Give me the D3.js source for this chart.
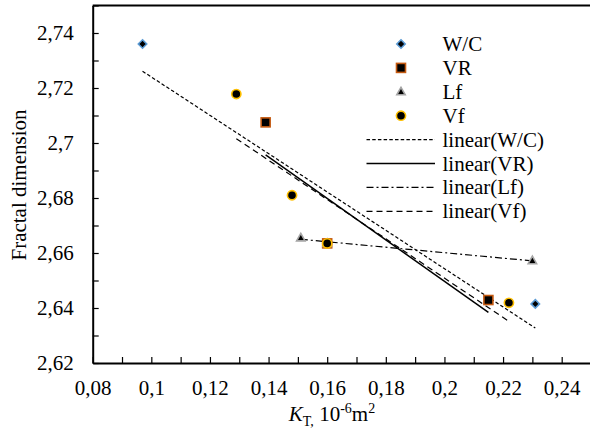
<!DOCTYPE html>
<html>
<head>
<meta charset="utf-8">
<script src="https://cdn.jsdelivr.net/npm/d3@7"></script>
<style>
  body { margin: 0; background: #fff; }
</style>
</head>
<body>
<div id="chart"></div>
<script>
// data (K_T in 10^-6 m^2, fractal dimension)
const seriesNames = ["W/C", "VR", "Lf", "Vf"];
const kW = [0.097, 0.160, 0.231];
const fdW = [2.736, 2.6635, 2.6415];
const kVR = [0.139, 0.160, 0.215];
const fdVR = [2.7075, 2.6635, 2.6429];
const kLf = [0.151, 0.160, 0.230];
const fdLf = [2.6655, 2.6635, 2.6572];
const kVf = [0.129, 0.148, 0.160, 0.222];
const fdVf = [2.7178, 2.681, 2.6635, 2.6419];
const xTickVals = d3.range(8, 25).map(i => i / 100);
const yTickVals = d3.range(262, 276).map(i => i / 100);

// 1. Setup
const width = 590, height = 430;
const margin = { top: 5.5, right: -1, bottom: 67, left: 92.7 };
const FONT = "Liberation Serif";
const svg = d3.select("#chart").append("svg")
  .attr("width", width).attr("height", height);

// 2. Scales
const x = d3.scaleLinear().domain([0.08, 0.25]).range([margin.left, width - margin.right]);
const y = d3.scaleLinear().domain([2.62, 2.75]).range([height - margin.bottom, margin.top]);
const fmt = d => d3.format(".2~f")(d).replace(".", ",");
const even = d => Math.round(d * 100) % 2 === 0;

// 3. Series styles
const series = [
  { key: seriesNames[0], xs: kW, ys: fdW, shape: "diamond", stroke: "#5b9bd5", dash: "3.5,2.2", lw: 1.2 },
  { key: seriesNames[1], xs: kVR, ys: fdVR, shape: "square", stroke: "#c55a11", dash: null, lw: 1.5 },
  { key: seriesNames[2], xs: kLf, ys: fdLf, shape: "triangle", stroke: "#a5a5a5", dash: "7,3,2,3", lw: 1.2 },
  { key: seriesNames[3], xs: kVf, ys: fdVf, shape: "circle", stroke: "#ffc000", dash: "6,4", lw: 1.2 }
];

// least squares trend over the series' own x range
function fit(xs, ys) {
  const mx = d3.mean(xs), my = d3.mean(ys);
  const sxy = d3.sum(xs, (v, i) => (v - mx) * (ys[i] - my));
  const sxx = d3.sum(xs, v => (v - mx) * (v - mx));
  const b = sxy / sxx;
  const [x0, x1] = d3.extent(xs);
  return [[x0, my + b * (x0 - mx)], [x1, my + b * (x1 - mx)]];
}

function marker(g, shape, cx, cy, stroke) {
  let el;
  if (shape === "diamond") {
    el = g.append("path").attr("d", `M${cx},${cy - 4.2}L${cx + 4.2},${cy}L${cx},${cy + 4.2}L${cx - 4.2},${cy}Z`);
  } else if (shape === "square") {
    el = g.append("rect").attr("x", cx - 4.5).attr("y", cy - 4.5).attr("width", 9).attr("height", 9);
  } else if (shape === "triangle") {
    el = g.append("path").attr("d", `M${cx},${cy - 4.5}L${cx + 4.2},${cy + 3}L${cx - 4.2},${cy + 3}Z`);
  } else {
    el = g.append("circle").attr("cx", cx).attr("cy", cy).attr("r", 4.6);
  }
  el.attr("fill", "#000").attr("stroke", stroke).attr("stroke-width", 1.6);
}

// 4. Axes
const xAxis = svg.append("g")
  .attr("transform", `translate(0,${y(2.62)})`)
  .call(d3.axisBottom(x).tickValues(xTickVals).tickSizeInner(-6).tickSizeOuter(0)
    .tickFormat(d => even(d) ? fmt(d) : ""));
xAxis.select(".domain").attr("stroke-width", 2);
xAxis.selectAll(".tick line").attr("stroke-width", 1.2);
xAxis.selectAll(".tick text").attr("y", 32).attr("dy", 0)
  .attr("font-family", FONT).attr("font-size", 21).attr("fill", "#000");

const yAxis = svg.append("g")
  .attr("transform", `translate(${x(0.08)},0)`)
  .call(d3.axisLeft(y).tickValues(yTickVals).tickSizeInner(-6).tickSizeOuter(0)
    .tickFormat(d => even(d) ? fmt(d) : ""));
yAxis.select(".domain").attr("stroke-width", 2);
yAxis.selectAll(".tick line").attr("stroke-width", 1.2);
yAxis.selectAll(".tick text").attr("x", -19).attr("dy", "0.33em")
  .attr("font-family", FONT).attr("font-size", 21).attr("fill", "#000");

// top frame line
svg.append("line")
  .attr("x1", x(0.08)).attr("x2", x(0.25))
  .attr("y1", y(2.75)).attr("y2", y(2.75))
  .attr("stroke", "#000").attr("stroke-width", 2);

// 5. Trend lines
series.forEach(s => {
  const pts = fit(s.xs, s.ys);
  svg.append("path")
    .attr("d", d3.line().x(d => x(d[0])).y(d => y(d[1]))(pts))
    .attr("fill", "none").attr("stroke", "#000")
    .attr("stroke-width", s.lw)
    .attr("stroke-dasharray", s.dash);
});

// 6. Markers
series.forEach(s => {
  const g = svg.append("g");
  s.xs.forEach((v, i) => marker(g, s.shape, x(v), y(s.ys[i]), s.stroke));
});

// 7. Legend
const lg = svg.append("g").attr("font-family", FONT).attr("font-size", 21);
const rowY = i => 44 + i * 23.9;
series.forEach((s, i) => {
  marker(lg, s.shape, 401, rowY(i), s.stroke);
  lg.append("text").attr("x", 442.5).attr("y", rowY(i) + 7).text(s.key);
});
series.forEach((s, i) => {
  const yy = rowY(i + 4);
  lg.append("line").attr("x1", 366.5).attr("x2", 435).attr("y1", yy).attr("y2", yy)
    .attr("stroke", "#000").attr("stroke-width", s.lw).attr("stroke-dasharray", s.dash);
  lg.append("text").attr("x", 442.5).attr("y", yy + 7).text(`linear(${s.key})`);
});

// 8. Axis titles
svg.append("text")
  .attr("transform", `translate(26,185) rotate(-90)`)
  .attr("text-anchor", "middle").attr("font-family", FONT).attr("font-size", 21)
  .text("Fractal dimension");

const xt = svg.append("text").attr("x", 332).attr("y", 421)
  .attr("text-anchor", "middle").attr("font-family", FONT).attr("font-size", 21);
xt.append("tspan").attr("font-style", "italic").text("K");
xt.append("tspan").attr("font-size", 14).attr("dy", 5).text("T,");
xt.append("tspan").attr("dy", -5).text(" 10");
xt.append("tspan").attr("font-size", 14).attr("dy", -8).text("-6");
xt.append("tspan").attr("dy", 8).text("m");
xt.append("tspan").attr("font-size", 14).attr("dy", -8).text("2");
</script>
</body>
</html>
